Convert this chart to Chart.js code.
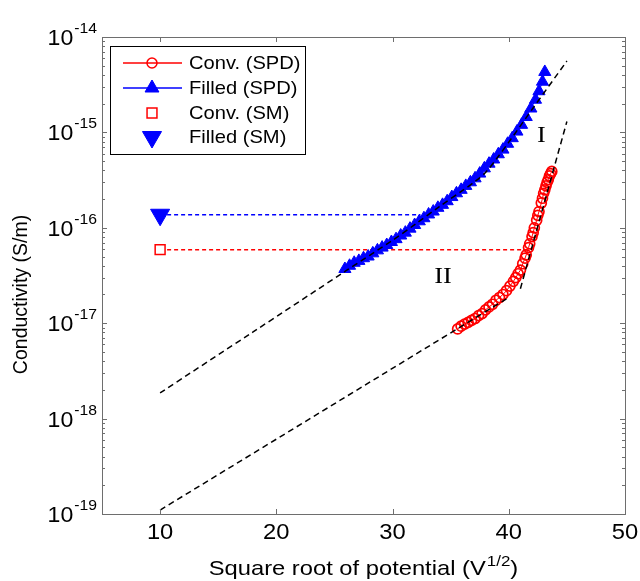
<!DOCTYPE html>
<html><head><meta charset="utf-8">
<script src="https://cdn.jsdelivr.net/npm/chart.js@4.4.0/dist/chart.umd.min.js"></script>
<style>html,body{margin:0;padding:0;background:#fff}#wrap{width:640px;height:581px;position:relative}</style>
</head><body><div id="wrap"><canvas id="c" width="640" height="581"></canvas></div>
<script>
// ---- data ----
const xTicks = [10, 20, 30, 40, 50];
const yExponents = [-19, -18, -17, -16, -15, -14];
const xRange = [5, 50];

const spdConvX = [35.6,35.9,36.2,36.5,36.8,37.1,37.4,37.7,38.0,38.3,38.6,38.9,39.2,39.5,39.8,40.1,40.4,40.6,40.8,41.0,41.2,41.4,41.5,41.7,41.8,42.0,42.1,42.2,42.4,42.5,42.6,42.8,42.9,43.0,43.1,43.2,43.3,43.4,43.5,43.6,43.7];
const spdConvY = [8.7e-18,9.3e-18,9.8e-18,1.02e-17,1.07e-17,1.12e-17,1.2e-17,1.26e-17,1.38e-17,1.48e-17,1.58e-17,1.74e-17,1.86e-17,2.0e-17,2.19e-17,2.45e-17,2.75e-17,3.0e-17,3.3e-17,3.6e-17,4.2e-17,4.8e-17,5.2e-17,6.2e-17,6.8e-17,8.1e-17,8.9e-17,1.0e-16,1.2e-16,1.35e-16,1.48e-16,1.82e-16,2.04e-16,2.3e-16,2.5e-16,2.75e-16,3.0e-16,3.2e-16,3.5e-16,3.7e-16,3.9e-16];

const spdFilledX = [25.9,26.3,26.7,27.1,27.5,27.9,28.3,28.7,29.1,29.5,29.9,30.3,30.7,31.1,31.5,31.9,32.3,32.7,33.1,33.5,33.9,34.3,34.7,35.1,35.5,35.9,36.3,36.7,37.1,37.5,37.9,38.3,38.7,39.1,39.5,39.9,40.3,40.7,41.1,41.5,41.9,42.3,42.6,42.9,43.1];
const spdFilledY = [3.7e-17,4.0e-17,4.3e-17,4.5e-17,4.8e-17,5.0e-17,5.4e-17,5.8e-17,6.2e-17,6.6e-17,7.1e-17,7.6e-17,8.3e-17,8.9e-17,9.8e-17,1.07e-16,1.17e-16,1.26e-16,1.38e-16,1.48e-16,1.62e-16,1.74e-16,1.9e-16,2.1e-16,2.3e-16,2.5e-16,2.75e-16,3.0e-16,3.3e-16,3.7e-16,4.2e-16,4.7e-16,5.2e-16,5.9e-16,6.6e-16,7.6e-16,8.7e-16,1.02e-15,1.2e-15,1.45e-15,1.78e-15,2.2e-15,2.7e-15,3.4e-15,4.3e-15];

const smConvX = [10, 41.6];
const smConvY = [5.9e-17, 5.9e-17];
const smFilledX = [10, 32.4];
const smFilledY = [1.37e-16, 1.37e-16];

// fitted guide curves
const fitIX = [10, 18, 26, 30, 32, 34, 36, 37, 38, 39, 40, 42, 45];
const fitIY = [1.86e-18, 8.1e-18, 3.55e-17, 7.4e-17, 1.1e-16, 1.66e-16, 2.45e-16, 3.0e-16, 3.8e-16, 5.4e-16, 7.9e-16, 1.74e-15, 5.6e-15];
const fitIIaX = [10, 39.8];
const fitIIaY = [1.1e-19, 1.8e-17];
const fitIIbX = [41.0, 45.0];
const fitIIbY = [2.3e-17, 1.3e-15];

const legendLabels = ['Conv. (SPD)', 'Filled (SPD)', 'Conv. (SM)', 'Filled (SM)'];
const regionLabels = [{t: 'I', x: 42.8, y: 9.3e-16}, {t: 'II', x: 34.35, y: 3.1e-17}];

// ---- helpers ----
const pts = (xs, ys) => xs.map((x, i) => ({x, y: ys[i]}));
const SANS = "'Liberation Sans', Arial, Helvetica, sans-serif";
const SERIF = "'Liberation Serif', 'Times New Roman', serif";
const RED = '#ff0000', BLUE = '#0000ff';
const HS = 1.06; // horizontal stretch of the reference typography

function textH(c, str, x, y, hs) {
  c.save(); c.translate(x, y); c.scale(hs, 1); c.fillText(str, 0, 0); c.restore();
}

function drawMarker(c, style, x, y, r, stroke, fill, lw) {
  c.save();
  c.beginPath();
  if (style === 'circle') { c.arc(x, y, r, 0, Math.PI * 2); }
  else if (style === 'rect') { const s = r * Math.SQRT1_2; c.rect(x - s, y - s, 2 * s, 2 * s); }
  else if (style === 'triUp' || style === 'triDown') {
    const d = style === 'triUp' ? -1 : 1;
    for (let k = 0; k < 3; k++) {
      const a = k * 2 * Math.PI / 3;
      const px = x + Math.sin(a) * r, py = y + d * Math.cos(a) * r;
      k === 0 ? c.moveTo(px, py) : c.lineTo(px, py);
    }
    c.closePath();
  }
  if (fill) { c.fillStyle = fill; c.fill(); }
  c.lineWidth = lw; c.strokeStyle = stroke; c.stroke();
  c.restore();
}

const decorPlugin = {
  id: 'decor',
  afterDraw(chart) {
    const c = chart.ctx, a = chart.chartArea;
    const xs = chart.scales.x, ys = chart.scales.y;
    c.save();
    // box
    c.strokeStyle = '#6e6e6e'; c.lineWidth = 1;
    c.strokeRect(Math.round(a.left) + 0.5, Math.round(a.top) + 0.5, Math.round(a.right - a.left), Math.round(a.bottom - a.top));
    // x ticks (inward, top & bottom)
    c.beginPath();
    xTicks.forEach(v => {
      const px = Math.round(xs.getPixelForValue(v)) + 0.5;
      c.moveTo(px, a.bottom); c.lineTo(px, a.bottom - 5);
      c.moveTo(px, a.top); c.lineTo(px, a.top + 5);
    });
    // y ticks major + minor
    yExponents.forEach((e, i) => {
      const py = Math.round(ys.getPixelForValue(Math.pow(10, e))) + 0.5;
      c.moveTo(a.left, py); c.lineTo(a.left + 5, py);
      c.moveTo(a.right, py); c.lineTo(a.right - 5, py);
      if (i < yExponents.length - 1) {
        for (let m = 2; m <= 9; m++) {
          const q = Math.round(ys.getPixelForValue(m * Math.pow(10, e))) + 0.5;
          c.moveTo(a.left, q); c.lineTo(a.left + 3, q);
          c.moveTo(a.right, q); c.lineTo(a.right - 3, q);
        }
      }
    });
    c.stroke();

    // tick labels
    c.fillStyle = '#000';
    xTicks.forEach(v => {
      c.font = '22px ' + SANS; c.textAlign = 'center'; c.textBaseline = 'top';
      textH(c, String(v), xs.getPixelForValue(v), a.bottom + 8, 1.08);
    });
    yExponents.forEach(e => {
      const py = ys.getPixelForValue(Math.pow(10, e));
      const sup = String(e);
      c.font = '15px ' + SANS;
      const sw = c.measureText(sup).width * 1.05;
      c.textAlign = 'right'; c.textBaseline = 'alphabetic';
      textH(c, sup, a.left - 5, py - 4, 1.05);
      c.font = '22px ' + SANS; c.textBaseline = 'middle';
      textH(c, '10', a.left - 6 - sw, py + 2, 1.05);
    });

    // x title with superscript
    const HX = 1.13;
    c.font = '21px ' + SANS; c.textBaseline = 'alphabetic'; c.textAlign = 'left';
    const t1 = 'Square root of potential (V', t2 = '1/2', t3 = ')';
    const w1 = c.measureText(t1).width * HX, w3 = c.measureText(t3).width * HX;
    c.font = '15px ' + SANS; const w2 = c.measureText(t2).width * HX;
    const cx = (a.left + a.right) / 2, total = w1 + w2 + w3 + 1;
    const sx = cx - total / 2; const by = 575;
    c.font = '21px ' + SANS; textH(c, t1, sx, by, HX);
    c.font = '15px ' + SANS; textH(c, t2, sx + w1 + 1, by - 9, HX);
    c.font = '21px ' + SANS; textH(c, t3, sx + w1 + w2 + 1, by, HX);

    // y title
    c.save();
    c.translate(22, (a.top + a.bottom) / 2 + 19); c.rotate(-Math.PI / 2);
    c.font = '19.5px ' + SANS; c.textAlign = 'center'; c.textBaseline = 'middle';
    c.fillText('Conductivity (S/m)', 0, 0);
    c.restore();

    // region labels
    c.font = '24px ' + SERIF; c.textAlign = 'center'; c.textBaseline = 'middle';
    regionLabels.forEach(r => textH(c, r.t, xs.getPixelForValue(r.x), ys.getPixelForValue(r.y), 1.1));

    // legend
    const lx = 110.5, ly = 46.5, lw = 195, lh = 108;
    c.fillStyle = '#fff'; c.fillRect(lx, ly, lw, lh);
    c.strokeStyle = '#000'; c.lineWidth = 1; c.strokeRect(lx, ly, lw, lh);
    const rows = [63, 88, 113, 137];
    const specs = [
      {line: RED, m: 'circle', r: 5, s: RED, f: null, lw: 1.5},
      {line: BLUE, m: 'triUp', r: 8, s: BLUE, f: BLUE, lw: 1},
      {line: null, m: 'rect', r: 7, s: RED, f: null, lw: 1.5},
      {line: null, m: 'triDown', r: 11, s: BLUE, f: BLUE, lw: 1}
    ];
    specs.forEach((sp, i) => {
      const yy = rows[i];
      if (sp.line) {
        c.beginPath(); c.strokeStyle = sp.line; c.lineWidth = 1.5;
        c.moveTo(123, yy); c.lineTo(182, yy); c.stroke();
      }
      drawMarker(c, sp.m, 152, yy, sp.r, sp.s, sp.f, sp.lw);
      c.fillStyle = '#000'; c.font = '19px ' + SANS; c.textAlign = 'left'; c.textBaseline = 'middle';
      textH(c, legendLabels[i], 189, yy + 1, HS);
    });
    c.restore();
  }
};

new Chart(document.getElementById('c'), {
  type: 'scatter',
  data: {
    datasets: [
      {label: 'fit I', data: pts(fitIX, fitIY), showLine: true, borderColor: '#000', borderWidth: 1.5, borderDash: [6, 4], pointRadius: 0, tension: 0.3, order: 0},
      {label: 'fit IIa', data: pts(fitIIaX, fitIIaY), showLine: true, borderColor: '#000', borderWidth: 1.5, borderDash: [6, 4], pointRadius: 0, order: 0},
      {label: 'fit IIb', data: pts(fitIIbX, fitIIbY), showLine: true, borderColor: '#000', borderWidth: 1.5, borderDash: [6, 4], pointRadius: 0, order: 0},
      {label: legendLabels[0], data: pts(spdConvX, spdConvY), showLine: true, borderColor: RED, borderWidth: 1, pointStyle: 'circle', pointRadius: 5, pointBorderWidth: 1.7, pointBorderColor: RED, pointBackgroundColor: 'rgba(255,255,255,0)', order: 2},
      {label: legendLabels[1], data: pts(spdFilledX, spdFilledY), showLine: true, borderColor: BLUE, borderWidth: 1, pointStyle: 'triangle', pointRadius: 7, pointBorderWidth: 1, pointBorderColor: BLUE, pointBackgroundColor: BLUE, order: 2},
      {label: legendLabels[2], data: pts(smConvX, smConvY), showLine: true, borderColor: RED, borderWidth: 1.5, borderDash: [4, 3], pointStyle: 'rect', pointRadius: [7, 0], pointBorderWidth: 1.5, pointBorderColor: RED, pointBackgroundColor: '#fff', order: 3},
      {label: legendLabels[3], data: pts(smFilledX, smFilledY), showLine: true, borderColor: BLUE, borderWidth: 1.5, borderDash: [4, 3], pointStyle: 'triangle', rotation: 180, pointRadius: [11, 0], pointBorderWidth: 1, pointBorderColor: BLUE, pointBackgroundColor: BLUE, order: 3}
    ]
  },
  options: {
    responsive: false, animation: false, devicePixelRatio: 1,
    layout: {padding: {left: 0, right: 15, top: 37, bottom: 0}},
    plugins: {legend: {display: false}, tooltip: {enabled: false}},
    scales: {
      x: {type: 'linear', min: xRange[0], max: xRange[1],
          grid: {display: false, drawTicks: false}, border: {display: false},
          ticks: {display: false},
          afterFit: s => { s.height = 67; }},
      y: {type: 'logarithmic', min: Math.pow(10, yExponents[0]), max: Math.pow(10, yExponents[yExponents.length - 1]),
          grid: {display: false, drawTicks: false}, border: {display: false},
          ticks: {display: false},
          afterFit: s => { s.width = 102; }}
    }
  },
  plugins: [decorPlugin]
});
</script>
</body></html>
